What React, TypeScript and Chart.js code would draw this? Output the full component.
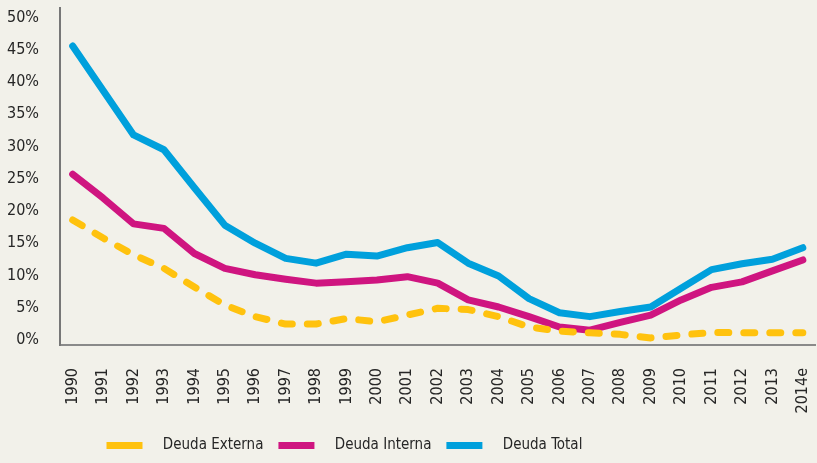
import React, { useEffect, useRef } from 'react';
import { Chart, registerables } from 'chart.js';

Chart.register(...registerables);

const years = ['1990', '1991', '1992', '1993', '1994', '1995', '1996', '1997', '1998', '1999', '2000', '2001', '2002', '2003', '2004', '2005', '2006', '2007', '2008', '2009', '2010', '2011', '2012', '2013', '2014e'];
const deudaExterna = [18.6, 15.8, 13.2, 11.1, 8.2, 5.4, 3.6, 2.45, 2.45, 3.3, 2.8, 3.85, 4.9, 4.7, 3.6, 2.0, 1.35, 1.1, 0.85, 0.3, 0.75, 1.15, 1.1, 1.1, 1.1];
const deudaInterna = [25.7, 22.0, 18.0, 17.3, 13.4, 11.1, 10.1, 9.4, 8.8, 9.0, 9.3, 9.8, 8.8, 6.2, 5.1, 3.6, 2.0, 1.5, 2.7, 3.85, 6.2, 8.15, 9.0, 10.7, 12.4];
const deudaTotal = [45.6, 38.7, 31.8, 29.5, 23.6, 17.8, 15.0, 12.65, 11.9, 13.3, 13.0, 14.3, 15.1, 11.9, 9.9, 6.4, 4.2, 3.6, 4.4, 5.1, 8.0, 10.9, 11.8, 12.5, 14.3];
const yTicks = [0, 5, 10, 15, 20, 25, 30, 35, 40, 45, 50];
const seriesNames = ['Deuda Externa', 'Deuda Interna', 'Deuda Total'];

const FONT = "'DejaVu Sans Condensed', 'Liberation Sans Narrow', sans-serif";
const TEXT = '#262626';

const toPoints = (vals: number[]) => vals.map((v, i) => ({ x: i, y: v }));

const legendShift = {
  id: 'legendShift',
  afterLayout(chart: any) {
    const l = chart.legend;
    if (l) {
      l.left += 31.5;
      l.right += 31.5;
    }
  },
};

export default function App() {
  const ref = useRef<HTMLCanvasElement>(null);
  useEffect(() => {
    document.body.style.margin = '0';
    const lineBase = {
      borderWidth: 7,
      borderCapStyle: 'round' as const,
      borderJoinStyle: 'round' as const,
      pointRadius: 0,
      tension: 0,
    };
    const chart = new Chart(ref.current as HTMLCanvasElement, {
      type: 'line',
      data: {
        datasets: [
          {
            ...lineBase,
            label: seriesNames[0],
            data: toPoints(deudaExterna),
            borderColor: '#ffc20e',
            backgroundColor: '#ffc20e',
            borderDash: [11, 15],
          },
          {
            ...lineBase,
            label: seriesNames[1],
            data: toPoints(deudaInterna),
            borderColor: '#cf1580',
            backgroundColor: '#cf1580',
          },
          {
            ...lineBase,
            label: seriesNames[2],
            data: toPoints(deudaTotal),
            borderColor: '#00a0dc',
            backgroundColor: '#00a0dc',
          },
        ],
      },
      options: {
        animation: false,
        responsive: true,
        maintainAspectRatio: false,
        layout: { padding: { top: 8, right: 2, left: 0, bottom: 0 } },
        plugins: {
          tooltip: { enabled: false },
          legend: {
            position: 'bottom',
            align: 'start',
            fullSize: false,
            labels: {
              usePointStyle: true,
              pointStyle: 'line',
              pointStyleWidth: 36,
              padding: 15,
              color: TEXT,
              font: { family: FONT, size: 15 },
              generateLabels: (c: any) =>
                Chart.defaults.plugins.legend.labels
                  .generateLabels(c)
                  .map((it: any) => ({ ...it, text: '   ' + it.text })),
            },
          },
        },
        scales: {
          x: {
            type: 'linear',
            min: -0.417,
            max: 24.4,
            grid: { display: false, drawTicks: false },
            border: { display: true, color: '#8a8a8a', width: 2 },
            afterBuildTicks: (s: any) => {
              s.ticks = years.map((_, i) => ({ value: i }));
            },
            afterFit: (s: any) => {
              s.height = 78;
              s.paddingLeft = 0;
              s.paddingRight = 0;
            },
            ticks: {
              autoSkip: false,
              maxRotation: 90,
              minRotation: 90,
              padding: 23,
              color: TEXT,
              font: { family: FONT, size: 16 },
              callback: (v: any) => years[v as number],
            },
          },
          y: {
            min: -0.8,
            max: 51.5,
            grid: { display: false, drawTicks: false },
            border: { display: true, color: '#777777', width: 2 },
            afterBuildTicks: (s: any) => {
              s.ticks = yTicks.map((v) => ({ value: v }));
            },
            afterFit: (s: any) => {
              s.width = 60;
              s.paddingTop = 0;
              s.paddingBottom = 0;
            },
            ticks: {
              padding: 21,
              color: TEXT,
              font: { family: FONT, size: 16 },
              callback: (v: any) => v + '%',
            },
          },
        },
      },
      plugins: [legendShift],
    });
    return () => chart.destroy();
  }, []);
  return (
    <div style={{ position: 'relative', width: 817, height: 463, background: '#f2f1ea' }}>
      <canvas ref={ref} />
    </div>
  );
}
